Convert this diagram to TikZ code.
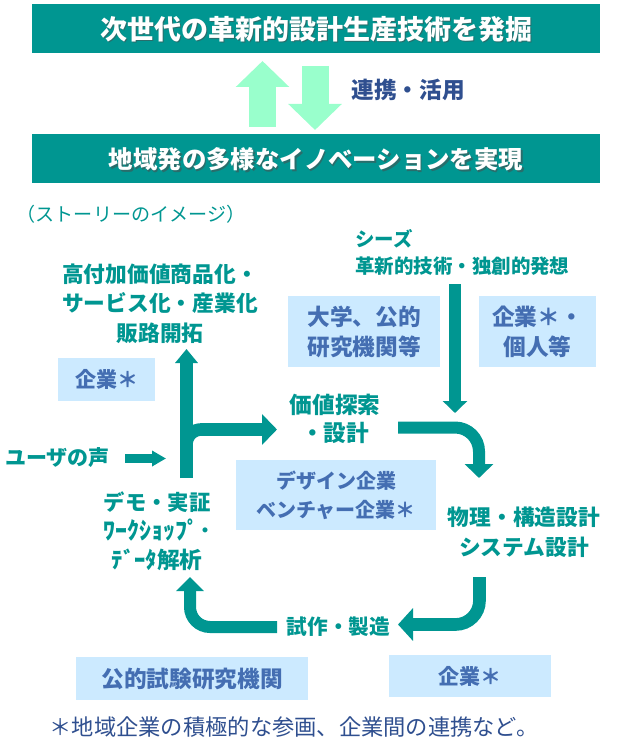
\documentclass[tikz,border=0pt]{standalone}
\usepackage{fontspec}
\setmainfont{Noto Sans CJK JP}
\usetikzlibrary{arrows.meta,calc}

\definecolor{kteal}{RGB}{0,150,145}
\definecolor{kmint}{RGB}{153,255,204}
\definecolor{kbox}{RGB}{204,234,255}
\definecolor{kboxtxt}{RGB}{68,110,178}
\definecolor{knavy}{RGB}{47,79,143}

\tikzset{
  banner/.style={fill=kteal, minimum width=426pt, minimum height=36.75pt, inner sep=0pt},
  bannertxt/.style={text=white, font=\bfseries\fontsize{#1}{#1}\selectfont, inner sep=0pt},
  shadowtxt/.style={text=black!70, opacity=0.55, font=\bfseries\fontsize{#1}{#1}\selectfont, inner sep=0pt},
  steptxt/.style 2 args={text=kteal, align=center, inner sep=0pt, font=\bfseries\fontsize{#1}{#2}\selectfont},
  lbox/.style={fill=kbox, text=kboxtxt, align=center, inner sep=0pt},
  mintarrow/.style={draw=kmint, line width=20.25pt, -{Triangle[width=39pt,length=19.5pt]}},
  flow/.style={draw=kteal, line width=9.5pt},
}

\begin{document}
\begin{tikzpicture}[x=0.75pt,y=0.75pt,yscale=-1,xscale=1]
\useasboundingbox (0,0) rectangle (633,745);

% banners
\node[banner] (top) at (316,28.5) {};
\node[shadowtxt=20.25pt] at (317.5,30.5) {次世代の革新的設計生産技術を発掘};
\node[bannertxt=20.25pt] (toptxt) at (316,29) {次世代の革新的設計生産技術を発掘};
\node[banner] (bot) at (316,159) {};
\node[shadowtxt=18.3pt] at (317.5,161) {地域発の多様なイノベーションを実現};
\node[bannertxt=18.3pt] (bottxt) at (316,159.5) {地域発の多様なイノベーションを実現};

% mint arrows between the banners
\coordinate (upfoot) at (262.5,127);
\coordinate (uptip) at (262.5,61);
\coordinate (dnfoot) at (315,66);
\coordinate (dntip) at (315,130);
\draw[mintarrow] (upfoot) -- (uptip);
\draw[mintarrow] (dnfoot) -- (dntip);
\node[text=knavy, font=\bfseries\fontsize{17pt}{17pt}\selectfont, inner sep=0pt] (renkei) at (408,90) {連携・活用};

% story
\node[text=kteal, font=\fontsize{14.3pt}{14.3pt}\selectfont, inner sep=0pt] (story) at (131,214) {（ストーリーのイメージ）};

% steps
\node[steptxt={16.3pt}{22.1pt}] (highval) at (160,303.5) {高付加価値商品化・\\サービス化・産業化\\販路開拓};
\node[text=kteal, align=left, anchor=west, inner sep=0pt, font=\bfseries\fontsize{14.6pt}{20pt}\selectfont] (seeds) at (355,252.5) {シーズ\\革新的技術・独創的発想};
\node[steptxt={17pt}{21pt}] (value) at (335,419) {価値探索\\・設計};
\node[steptxt={15.75pt}{15.75pt}] (user) at (57.5,458) {ユーザの声};
\node[steptxt={16.3pt}{22.5pt}] (phys) at (524,532) {物理・構造設計\\システム設計};
\node[steptxt={16pt}{21.75pt}] (demo) at (157,531) {デモ・実証\\{\fontsize{18pt}{21.75pt}\selectfont ﾜｰｸｼｮｯﾌﾟ･}\\{\fontsize{17pt}{21.75pt}\selectfont ﾃﾞｰﾀ解析}};
\node[steptxt={15.5pt}{15.5pt}] (proto) at (338.5,627) {試作・製造};

% actor boxes
\node[lbox, minimum width=114pt, minimum height=53.25pt, font=\bfseries\fontsize{17pt}{22.5pt}\selectfont] (univ) at (364,331.5) {大学、公的\\研究機関等};
\node[lbox, minimum width=87.75pt, minimum height=53.25pt, font=\bfseries\fontsize{17pt}{22.5pt}\selectfont] (indiv) at (537.5,331.5) {企業＊・\\個人等};
\node[lbox, minimum width=72.75pt, minimum height=32.25pt, font=\bfseries\fontsize{15.75pt}{15.75pt}\selectfont] (firmA) at (106.5,379.5) {企業＊};
\node[lbox, minimum width=150pt, minimum height=52.5pt, font=\bfseries\fontsize{15pt}{21.75pt}\selectfont] (design) at (336,495) {デザイン企業\\ベンチャー企業＊};
\node[lbox, minimum width=174pt, minimum height=32.25pt, font=\bfseries\fontsize{17pt}{17pt}\selectfont] (pubtest) at (192,678.5) {公的試験研究機関};
\node[lbox, minimum width=121.5pt, minimum height=31.5pt, font=\bfseries\fontsize{15.75pt}{15.75pt}\selectfont] (firmB) at (470,676) {企業＊};

% footnote
\node[text=knavy, font=\fontsize{16.7pt}{16.7pt}\selectfont, inner sep=0pt] (note) at (294,727) {＊地域企業の積極的な参画、企業間の連携など。};

% flow arrows
\coordinate (seedtop) at (455,284);
\coordinate (seedend) at (455,413);
\coordinate (demotop) at (186.5,478);
\coordinate (hvend) at (186.5,349);
\coordinate (branch) at (186.5,470);
\coordinate (valend) at (277,429.5);
\coordinate (userstart) at (125,458.5);
\coordinate (userend) at (166,458.5);
\coordinate (valout) at (398,427.5);
\coordinate (physend) at (479,478);
\coordinate (systop) at (479.5,577);
\coordinate (protoend) at (398,624.5);
\coordinate (protoout) at (277,627);
\coordinate (demoend) at (190,577);

\draw[flow, -{Triangle[width=18pt,length=9pt]}] (seedtop) -- (seedend);
\draw[flow, -{Triangle[width=16.5pt,length=10.5pt]}] (demotop) -- (hvend);
\draw[flow, rounded corners=11pt, -{Triangle[width=22.5pt,length=11.25pt]}] (branch) |- (valend);
\draw[flow, line width=6.75pt, -{Triangle[width=11.25pt,length=10.5pt]}] (userstart) -- (userend);
\draw[flow, line width=9pt, rounded corners=18pt, -{Triangle[width=21pt,length=10.5pt]}] (valout) -| (physend);
\draw[flow, rounded corners=18pt, -{Triangle[width=24pt,length=11.25pt]}] (systop) |- (protoend);
\draw[flow, line width=9pt, rounded corners=15pt, -{Triangle[width=20pt,length=10.5pt]}] (protoout) -| (demoend);

\end{tikzpicture}
\end{document}
